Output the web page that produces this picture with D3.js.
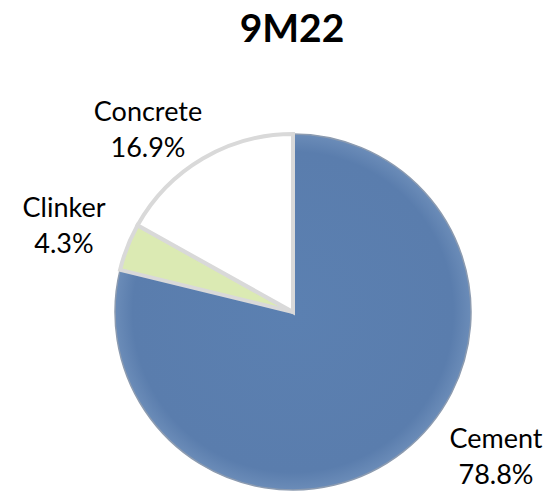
<!DOCTYPE html>
<html lang="en">
<head>
  <meta charset="utf-8">
  <title>9M22</title>
  <script src="https://d3js.org/d3.v7.min.js"></script>
  <style>
    body { margin: 0; background: #fff; }
    text { font-family: Lato, "Open Sans", sans-serif; fill: #000; }
  </style>
</head>
<body>
<svg id="chart" width="550" height="491"></svg>
<script>
// chart data
var categories = ["Cement", "Clinker", "Concrete"];
var shares = [78.8, 4.3, 16.9];
var labels = ["78.8%", "4.3%", "16.9%"];
var colors = ["#5a7eae", "#dbeab3", "#ffffff"];

// label placement relative to the pie centre: [dx, baseline of first line]
var labelOffset = [[203, 136], [-229, -95], [-145, -191]];

var svg = d3.select("#chart"),
    cx = 293, cy = 312, radius = 178;

svg.append("text")
    .attr("x", 292)
    .attr("y", 42)
    .attr("text-anchor", "middle")
    .style("font-size", "39px")
    .style("font-weight", "bold")
    .text("9M22");

var defs = svg.append("defs");
var grad = defs.append("radialGradient")
    .attr("id", "blueShade")
    .attr("gradientUnits", "userSpaceOnUse")
    .attr("cx", 0).attr("cy", 0).attr("r", radius);
grad.append("stop").attr("offset", "0%").attr("stop-color", "#5b80b1");
grad.append("stop").attr("offset", "90%").attr("stop-color", "#5a7dad");
grad.append("stop").attr("offset", "100%").attr("stop-color", "#6b8cb8");

var data = categories.map((c, i) => ({name: c, value: shares[i], label: labels[i], color: colors[i], i: i}));

var pie = d3.pie().sort(null).value(d => d.value);
var arc = d3.arc().innerRadius(0).outerRadius(radius);

var g = svg.append("g").attr("transform", "translate(" + cx + "," + cy + ")");

g.selectAll("path.slice")
    .data(pie(data))
  .enter().append("path")
    .attr("class", "slice")
    .attr("d", arc)
    .attr("fill", d => d.data.i == 0 ? "url(#blueShade)" : d.data.color)
    .attr("stroke", d => d.data.i == 0 ? "#8c9bb0" : "#d9d9d9")
    .attr("stroke-width", d => d.data.i == 0 ? 1.5 : 4);

// light wedges on top so their borders stay visible
g.selectAll("path.slice").filter(d => d.data.i != 0).raise();

var lab = svg.append("g").selectAll("text.lab")
    .data(data)
  .enter().append("text")
    .attr("class", "lab")
    .attr("text-anchor", "middle")
    .style("font-size", "27px");

lab.append("tspan")
    .attr("x", d => cx + labelOffset[d.i][0])
    .attr("y", d => cy + labelOffset[d.i][1])
    .text(d => d.name);

lab.append("tspan")
    .attr("x", d => cx + labelOffset[d.i][0])
    .attr("y", d => cy + labelOffset[d.i][1] + 36)
    .text(d => d.label);
</script>
</body>
</html>
